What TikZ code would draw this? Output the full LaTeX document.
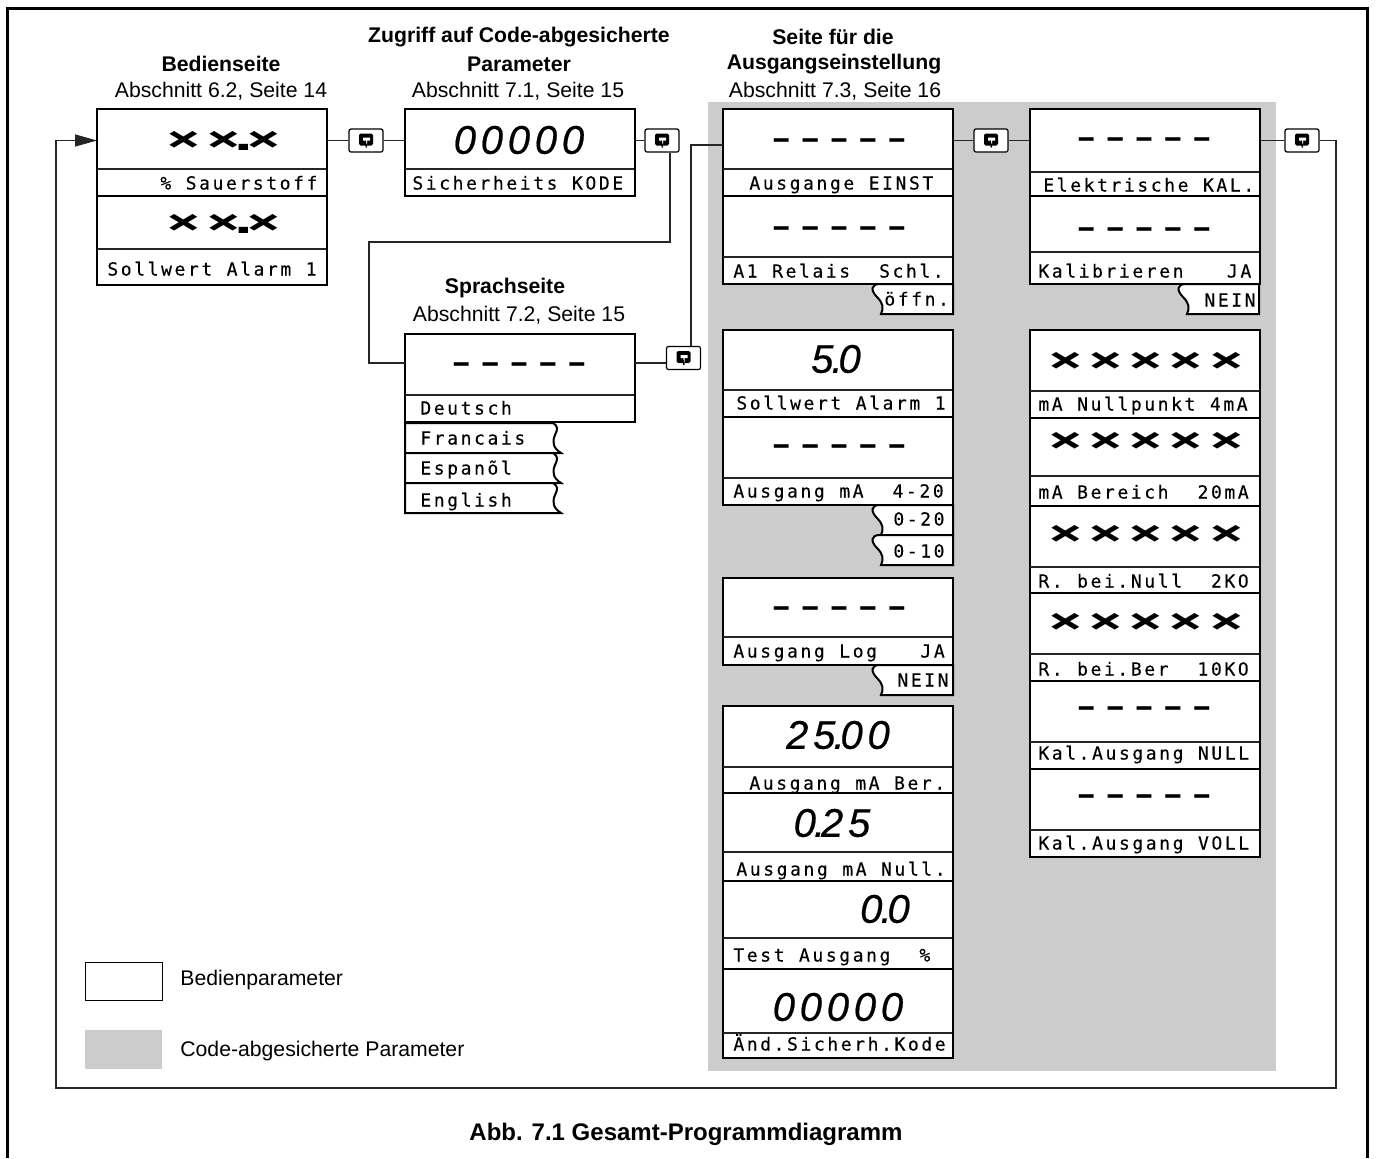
\documentclass[tikz,border=0pt]{standalone}
\usepackage{graphicx}
\usepackage{fontspec}
\usepackage{tikz}
\usetikzlibrary{arrows.meta}
\setmainfont{Liberation Sans}
\newfontfamily\lcdfont[LetterSpace=14.4,WordSpace=1.08,FakeBold=0.25]{DejaVu Sans Mono}
\newfontfamily\crossfont[LetterSpace=-25.5,WordSpace=0.28]{DejaVu Sans Mono}
\newfontfamily\digitfont[LetterSpace=12,FakeBold=0.5]{Liberation Sans}
\newfontfamily\dashfont[FakeBold=1.5]{DejaVu Sans Mono}
\definecolor{gpgrey}{gray}{0.8}
\tikzset{
  panel/.style={draw,line width=1pt,fill=white,anchor=north west,inner sep=0pt,outer sep=0pt,minimum width=115pt},
  lbl/.style={inner sep=0pt,anchor=west,text height=6.5pt,text depth=0pt,font=\fontsize{9}{9}\selectfont\lcdfont},
  crossval/.style={inner sep=0pt,font=\fontsize{16}{16}\selectfont\crossfont\bfseries},
  dashval/.style={inner sep=0pt,yshift=-1.75pt,font=\fontsize{12}{12}\selectfont\dashfont\bfseries},
  digitval/.style={inner sep=0pt,font=\fontsize{20}{20}\selectfont\digitfont\itshape},
  head/.style={inner sep=0pt,font=\fontsize{10.6}{10.6}\selectfont},
  wire/.style={line width=.55pt,black!85},
  btn/.style={draw,line width=.6pt,fill=white,rounded corners=1pt,inner sep=0pt,minimum width=17pt,minimum height=11.5pt}
}
% display cell with its divider line
\newcommand{\panelbox}[5]{
  \node[panel,minimum height={(#5-#3)*0.5pt}] (#1) at (#2,#3) {};
  \draw[line width=.6pt,black!85] (#2,#4) -- ++(229,0);
}
% key symbol between two display cells
\newcommand{\btnbox}[3]{
  \node[btn] (#1) at (#2,#3) {};
  \fill[black,rounded corners=.8pt] (#2-7,#3-7) rectangle (#2+7,#3+5);
  \fill[white] (#2-3,#3-3) -- (#2+4,#3-3) -- (#2+4,#3) -- (#2+1,#3) -- (#2+1,#3+4) -- (#2-2,#3) -- (#2-3,#3) -- cycle;
  \draw[line width=.7pt] (#2-1,#3) -- (#2+.5,#3+7);
}
% option tabs hanging under a cell
\newcommand{\tabright}[3]{
  \draw[line width=1pt,fill=white] (#1+80,#2) -- (#1+7,#2) .. controls (#1-3,#2) and (#1-2,#2+7) .. (#1+4,#2+13) .. controls (#1+10,#2+19) and (#1+11,#3-6) .. (#1+8,#3) -- (#1+80,#3) -- cycle;
}
\newcommand{\tableft}[2]{
  \draw[line width=1pt,fill=white] (405,#1) -- (553,#1) .. controls (558,#1+3) and (558,#1+6) .. (555,#1+12) .. controls (552,#1+19) and (553,#1+25) .. (561,#2) -- (405,#2) -- cycle;
}
\newcommand{\crosses}[1]{\scalebox{1.8}[1.07]{#1}}
\newcommand{\dpt}{\kern-1pt.\kern-2pt}

\begin{document}
\begin{tikzpicture}[x=0.5pt,y=-0.5pt]
  \useasboundingbox (0,0) rectangle (1377,1158);
  \draw[line width=1.5pt] (7,1158) -- (7,8) -- (1367,8) -- (1367,1158);
  \fill[gpgrey] (708,102) rectangle (1276,1071);

  % headings
  \node[head] (h1a) at (221,64) {\textbf{Bedienseite}};
  \node[head] (h1b) at (221,91) {Abschnitt 6.2, Seite 14};
  \node[head] (h2a) at (519,37) {\textbf{Zugriff auf Code-abgesicherte}};
  \node[head] (h2b) at (519,64) {\textbf{Parameter}};
  \node[head] (h2c) at (518,91) {Abschnitt 7.1, Seite 15};
  \node[head] (h3a) at (505,288) {\textbf{Sprachseite}};
  \node[head] (h3b) at (519,315) {Abschnitt 7.2, Seite 15};
  \node[head] (h4a) at (833,37) {\textbf{Seite für die}};
  \node[head] (h4b) at (834,64) {\textbf{Ausgangseinstellung}};
  \node[head] (h4c) at (835,91) {Abschnitt 7.3, Seite 16};

  % operator page
  \panelbox{oxy}{97}{109}{169}{196}
  \node[crossval] (oxyv) at (224,141) {\crosses{× ×.×}};
  \node[lbl] (oxyl) at (160,183) {\%~Sauerstoff};
  \panelbox{alarm}{97}{196}{249}{285}
  \node[crossval] (alarmv) at (224,224) {\crosses{× ×.×}};
  \node[lbl] (alarml) at (107,269) {Sollwert~Alarm~1};

  % code page
  \panelbox{code}{405}{109}{169}{196}
  \node[digitval] (codev) at (519,140) {00000};
  \node[lbl] (codel) at (412,183) {Sicherheits~KODE};

  % language page
  \tableft{423}{453}
  \tableft{453}{483}
  \tableft{483}{513}
  \panelbox{lang}{405}{334}{395}{422}
  \node[dashval] (langv) at (519,363) {– – – – –};
  \node[lbl] (langl) at (420,408) {Deutsch};
  \node[lbl] (lang2) at (420,438) {Francais};
  \node[lbl] (lang3) at (420,468) {Espanõl};
  \node[lbl] (lang4) at (420,500) {English};

  % output column
  \tabright{873}{284}{314}
  \panelbox{einst}{723}{109}{169}{196}
  \node[dashval] (einstv) at (839,139) {– – – – –};
  \node[lbl] (einstl) at (749,183) {Ausgange~EINST};
  \panelbox{relais}{723}{196}{257}{284}
  \node[dashval] (relaisv) at (839,227) {– – – – –};
  \node[lbl] (relaisl) at (733,271) {A1~Relais~~Schl.};
  \node[lbl] (relais2) at (884,299) {öffn.};

  \tabright{873}{505}{535}
  \tabright{873}{535}{565}
  \panelbox{soll}{723}{330}{390}{417}
  \node[digitval] (sollv) at (836,359) {5\dpt0};
  \node[lbl] (solll) at (736,403) {Sollwert~Alarm~1};
  \panelbox{ma}{723}{417}{478}{505}
  \node[dashval] (mav) at (839,445) {– – – – –};
  \node[lbl] (mal) at (733,491) {Ausgang~mA~~4-20};
  \node[lbl] (ma2) at (893,519) {0-20};
  \node[lbl] (ma3) at (893,551) {0-10};

  \tabright{873}{665}{695}
  \panelbox{log}{723}{578}{637}{665}
  \node[dashval] (logv) at (839,607) {– – – – –};
  \node[lbl] (logl) at (733,651) {Ausgang~Log~~~JA};
  \node[lbl] (log2) at (897,680) {NEIN};

  \panelbox{ber}{723}{706}{767}{793}
  \node[digitval] (berv) at (838,735) {25\dpt00};
  \node[lbl] (berl) at (749,783) {Ausgang~mA~Ber.};
  \panelbox{null}{723}{793}{852}{881}
  \node[digitval] (nullv) at (832,823) {0\dpt25};
  \node[lbl] (nulll) at (736,869) {Ausgang~mA~Null.};
  \panelbox{test}{723}{881}{938}{969}
  \node[digitval] (testv) at (885,909) {0\dpt0};
  \node[lbl] (testl) at (733,955) {Test~Ausgang~~\%};
  \panelbox{kode}{723}{969}{1033}{1058}
  \node[digitval] (kodev) at (838,1007) {00000};
  \node[lbl] (kodel) at (733,1044) {Änd.Sicherh.Kode};

  % calibration column
  \tabright{1179}{284}{314}
  \panelbox{elek}{1030}{109}{172}{196}
  \node[dashval] (elekv) at (1144,138) {– – – – –};
  \node[lbl] (elekl) at (1043,185) {Elektrische~KAL.};
  \panelbox{kal}{1030}{196}{252}{284}
  \node[dashval] (kalv) at (1144,228) {– – – – –};
  \node[lbl] (kall) at (1038,271) {Kalibrieren~~~JA};
  \node[lbl] (kal2) at (1204,300) {NEIN};

  \panelbox{nullp}{1030}{330}{391}{418}
  \node[crossval] (nullpv) at (1146,362) {\crosses{× × × × ×}};
  \node[lbl] (nullpl) at (1038,404) {mA~Nullpunkt~4mA};
  \panelbox{bereich}{1030}{418}{476}{506}
  \node[crossval] (bereichv) at (1146,442) {\crosses{× × × × ×}};
  \node[lbl] (bereichl) at (1038,492) {mA~Bereich~~20mA};
  \panelbox{rnull}{1030}{506}{567}{593}
  \node[crossval] (rnullv) at (1146,535) {\crosses{× × × × ×}};
  \node[lbl] (rnulll) at (1038,581) {R.~bei.Null~~2KO};
  \panelbox{rber}{1030}{593}{654}{681}
  \node[crossval] (rberv) at (1146,623) {\crosses{× × × × ×}};
  \node[lbl] (rberl) at (1038,669) {R.~bei.Ber~~10KO};
  \panelbox{knull}{1030}{681}{742}{769}
  \node[dashval] (knullv) at (1144,707) {– – – – –};
  \node[lbl] (knulll) at (1038,753) {Kal.Ausgang~NULL};
  \panelbox{kvoll}{1030}{769}{830}{857}
  \node[dashval] (kvollv) at (1144,795) {– – – – –};
  \node[lbl] (kvolll) at (1038,843) {Kal.Ausgang~VOLL};

  % keys and wiring
  \btnbox{k1}{366}{140.5}
  \btnbox{k2}{662}{140.5}
  \btnbox{k3}{683.5}{358}
  \btnbox{k4}{991}{140.5}
  \btnbox{k5}{1302}{140.5}
  \coordinate (r1) at (670,242);
  \coordinate (r2) at (369,242);
  \coordinate (m3) at (634,363);
  \coordinate (u1) at (691,145);
  \coordinate (b1) at (1336,1088);
  \coordinate (b2) at (56,1088);
  \draw[wire] (oxy.east |- k1.west) -- (k1.west);
  \draw[wire] (k1.east) -- (code.west |- k1.east);
  \draw[wire] (code.east |- k2.west) -- (k2.west);
  \draw[wire] (k2.south -| r1) -- (r1) -- (r2) |- (lang.west |- m3);
  \draw[wire] (lang.east |- m3) -- (k3.west |- m3);
  \draw[wire] (k3.north -| u1) -- (u1) -- (einst.west |- u1);
  \draw[wire] (einst.east |- k4.west) -- (k4.west);
  \draw[wire] (k4.east) -- (elek.west |- k4.east);
  \draw[wire] (elek.east |- k5.west) -- (k5.west);
  \draw[wire,-{Triangle[length=11pt,width=6pt]}] (k5.east) -| (b1) -- (b2) |- (oxy.west |- k5.east);

  % legend
  \node[draw,line width=.6pt,inner sep=0pt,minimum width=38.5pt,minimum height=19pt,anchor=north west] (lega) at (85,962) {};
  \node[fill=gpgrey,inner sep=0pt,minimum width=38.5pt,minimum height=19.5pt,anchor=north west] (legb) at (85,1030) {};
  \node[head,anchor=west] (legat) at (180,980) {Bedienparameter};
  \node[head,anchor=west] (legbt) at (180,1051) {Code-abgesicherte Parameter};
  \node[head,font=\fontsize{12}{12}\selectfont] (title) at (686,1134) {\textbf{Abb. 7.1 Gesamt-Programmdiagramm}};
\end{tikzpicture}
\end{document}
